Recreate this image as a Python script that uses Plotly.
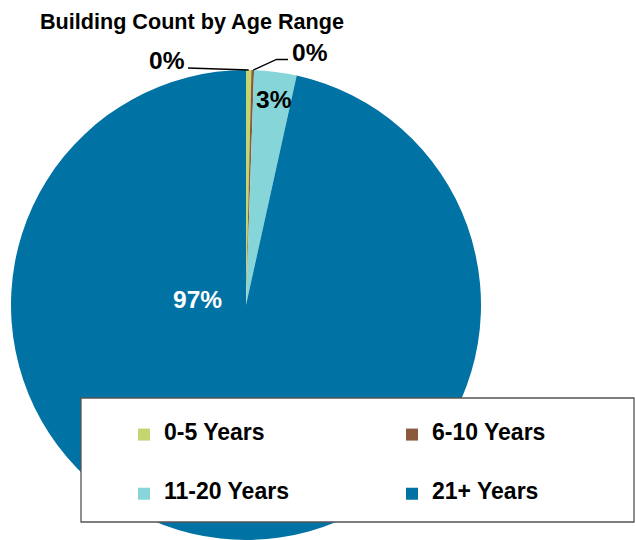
import math
import plotly.graph_objects as go

# Building counts per age band
age_ranges = ["0-5 Years", "6-10 Years", "11-20 Years", "21+ Years"]
building_counts = [2, 1, 16, 530]
slice_colors = ["#C3D66F", "#8B5A3C", "#86D5D8", "#0072A3"]

W, H = 635, 540
FONT = "Liberation Sans, Arial, sans-serif"

# pie geometry in pixels (domain chosen so the circle sits at this centre/radius)
cx, cy, r = 246, 305, 235

total = sum(building_counts)
shares = [c / total for c in building_counts]
pct_text = [f"{round(s * 100):d}%" for s in shares]

# legend entries: a blank line above and below spaces the rows out
NB = "\u00a0"
legend_labels = [f"{NB}<br><span style='font-size:23px'>{a}</span><br>{NB}" for a in age_ranges]

fig = go.Figure(
    go.Pie(
        labels=legend_labels,
        values=building_counts,
        marker=dict(colors=slice_colors, line=dict(width=0)),
        sort=False,
        direction="clockwise",
        rotation=0,
        textinfo="none",
        hoverinfo="value+percent",
        domain=dict(x=[(cx - r) / W, (cx + r) / W], y=[1 - (cy + r) / H, 1 - (cy - r) / H]),
    )
)


def px_to_paper(x, y):
    return x / W, 1 - y / H


# mid-angle of each slice (clockwise from 12 o'clock)
mid_angles = []
acc = 0.0
for s in shares:
    mid_angles.append((acc + s / 2) * 2 * math.pi)
    acc += s


def rim_point(i):
    a = mid_angles[i]
    return cx + r * math.sin(a), cy - r * math.cos(a)


shapes = []
# leader line for the first small slice (to the left)
x0, y0 = rim_point(0)
p0 = px_to_paper(x0, y0)
p1 = px_to_paper(188, 68)
shapes.append(dict(type="path", xref="paper", yref="paper",
                   path=f"M {p0[0]},{p0[1]} L {p1[0]},{p1[1]}",
                   line=dict(color="black", width=1.3)))
# leader line for the second small slice (bent, to the right)
x0, y0 = rim_point(1)
p0 = px_to_paper(x0 + 0.5, y0)
p1 = px_to_paper(276.5, 59.5)
p2 = px_to_paper(288, 59.5)
shapes.append(dict(type="path", xref="paper", yref="paper",
                   path=f"M {p0[0]},{p0[1]} L {p1[0]},{p1[1]} L {p2[0]},{p2[1]}",
                   line=dict(color="black", width=1.3)))

# legend frame drawn over the pie
lx0, ly0, lx1, ly1 = 81, 398, 634, 522
shapes.append(dict(type="rect", xref="paper", yref="paper", layer="above",
                   x0=lx0 / W, x1=lx1 / W, y0=1 - ly1 / H, y1=1 - ly0 / H,
                   fillcolor="white", line=dict(color="#555555", width=1.3)))

label_pos = [(167, 61), (310, 52), (274, 99), (197, 299)]
label_col = ["black", "black", "black", "white"]
annotations = []
for txt, (x, y), col in zip(pct_text, label_pos, label_col):
    px, py = px_to_paper(x, y)
    annotations.append(dict(x=px, y=py, xref="paper", yref="paper", text=f"<b>{txt}</b>",
                            showarrow=False, xanchor="center", yanchor="middle",
                            font=dict(family=FONT, size=24.5, color=col)))

fig.update_layout(
    width=W, height=H,
    margin=dict(l=0, r=0, t=0, b=0, autoexpand=False),
    paper_bgcolor="white",
    plot_bgcolor="white",
    title=dict(text="<b>Building Count by Age Range</b>", x=40 / W, xanchor="left",
               y=1 - 21 / H, yanchor="middle", xref="paper", yref="container",
               font=dict(family=FONT, size=21.6, color="black")),
    showlegend=True,
    legend=dict(orientation="h", x=124 / W, xanchor="left", y=1 - 400 / H,
                yanchor="top", bgcolor="rgba(0,0,0,0)", borderwidth=0,
                entrywidth=223, entrywidthmode="pixels",
                font=dict(family=FONT, size=14.4, color="black", weight="bold"),
                traceorder="normal"),
    shapes=shapes,
    annotations=annotations,
)

fig.write_html("out.html")
